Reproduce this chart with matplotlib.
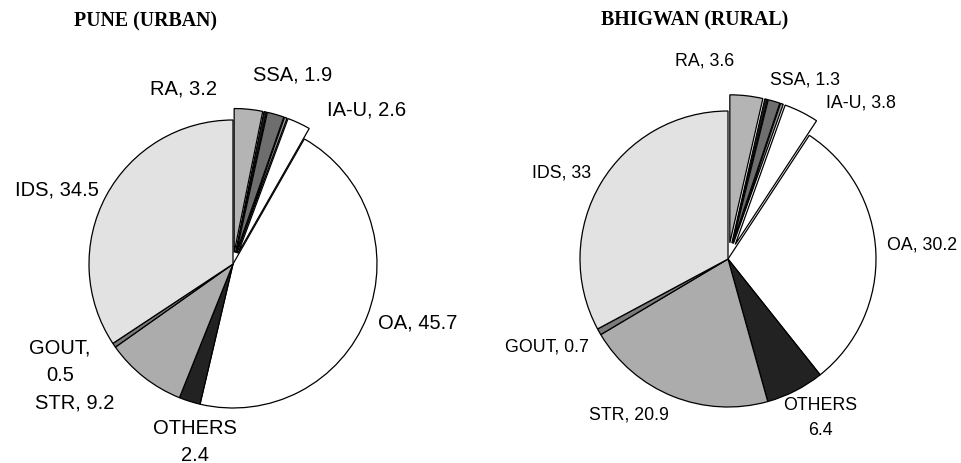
import numpy as np
import matplotlib.pyplot as plt

# slice order, clockwise from 12 o'clock
categories = ['RA', '', 'SSA', '', 'IA-U', 'OA', 'OTHERS', 'STR', 'GOUT', 'IDS']
pune = [3.2, 0.3, 1.9, 0.3, 2.6, 45.7, 2.4, 9.2, 0.5, 34.5]
bhigwan = [3.6, 0.3, 1.3, 0.3, 3.8, 30.2, 6.4, 20.9, 0.7, 33]

pune_labels = ['RA, 3.2', 'SSA, 1.9', 'IA-U, 2.6', 'IDS, 34.5', 'OA, 45.7',
               'GOUT,\n0.5', 'STR, 9.2', 'OTHERS\n2.4']
bhigwan_labels = ['RA, 3.6', 'SSA, 1.3', 'IA-U, 3.8', 'IDS, 33', 'OA, 30.2',
                  'GOUT, 0.7', 'STR, 20.9', 'OTHERS\n6.4']

colors = ['#b4b4b4', '#1e1e1e', '#6e6e6e', '#9a9a9a', 'white', 'white',
          '#222222', '#acacac', '#7a7a7a', '#e2e2e2']

W, H = 961, 464
fig = plt.figure(figsize=(W / 100, H / 100), dpi=100)
fig.patch.set_facecolor('white')


def draw_pie(values, cx, cy, r, expl):
    half = 230
    ax = fig.add_axes([(cx - half) / W, (H - cy - half) / H, 2 * half / W, 2 * half / H])
    explode = [expl] * 5 + [0] * 5
    ax.pie(values, colors=colors, startangle=90, counterclock=False,
           explode=explode, wedgeprops=dict(edgecolor='black', linewidth=0.9))
    ax.set_xlim(-half / r, half / r)
    ax.set_ylim(-half / r, half / r)
    ax.set_aspect('equal')
    ax.axis('off')
    return ax


draw_pie(pune, 233, 265, 144, 0.08)
draw_pie(bhigwan, 728, 260, 148, 0.11)


def put(text, x, y, size):
    fig.text(x / W, 1 - y / H, text, ha='center', va='center', fontsize=size,
             family='Liberation Sans', linespacing=1.55)


title_font = dict(family='Liberation Serif', fontweight='bold', fontsize=14.3,
                  ha='center', va='center')
fig.text(145 / W, 1 - 21 / H, 'PUNE (URBAN)', **title_font)
fig.text(695 / W, 1 - 20 / H, 'BHIGWAN (RURAL)', **title_font)

pune_pos = [(184, 89), (293, 75), (367, 110), (57, 190), (418, 323),
            (60, 362), (75, 403), (195, 442)]
bhigwan_pos = [(705, 61), (805, 80), (861, 103), (562, 173), (922, 245),
               (547, 347), (629, 415), (820, 418)]

for t, (x, y) in zip(pune_labels, pune_pos):
    put(t, x, y, 14.5)
for t, (x, y) in zip(bhigwan_labels, bhigwan_pos):
    put(t, x, y, 12.8)

fig.savefig('out.png', dpi=100, facecolor='white')
